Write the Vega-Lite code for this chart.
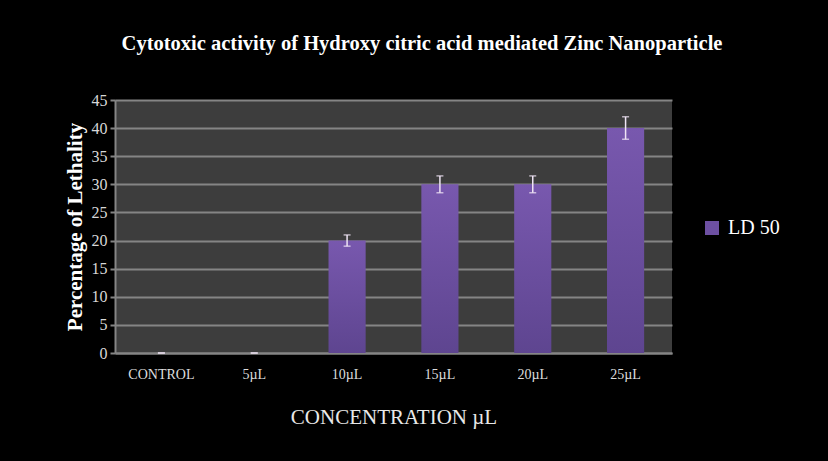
{
  "$schema": "https://vega.github.io/schema/vega-lite/v6.json",
  "autosize": "none",
  "width": 557,
  "height": 253,
  "padding": {"left": 115, "top": 100, "right": 156, "bottom": 108},
  "background": "#000000",
  "title": {
    "text": "Cytotoxic activity of Hydroxy citric acid mediated Zinc Nanoparticle",
    "font": "Liberation Serif",
    "fontSize": 20.5,
    "fontWeight": "bold",
    "color": "#ffffff",
    "anchor": "middle",
    "frame": "bounds",
    "offset": 38
  },
  "config": {
    "view": {"fill": "#3d3d3d", "stroke": null},
    "font": "Liberation Serif",
    "axisY": {
      "titleFont": "Liberation Serif",
      "titleFontSize": 21,
      "titleFontWeight": "bold",
      "titleColor": "#ffffff",
      "titlePadding": 6,
      "labelFont": "Liberation Serif",
      "labelFontSize": 16,
      "labelColor": "#d8d8d8",
      "labelPadding": 3,
      "labelOverlap": false,
      "tickCount": 10,
      "tickColor": "#858585",
      "tickSize": 5,
      "tickWidth": 2,
      "grid": true,
      "gridColor": "#858585",
      "gridWidth": 2,
      "domainColor": "#858585",
      "domainWidth": 2
    }
  },
  "data": {
    "values": [
      {"conc": "CONTROL", "value": 0, "lo": 0, "hi": 0, "series": "LD 50"},
      {"conc": "5µL", "value": 0, "lo": 0, "hi": 0, "series": "LD 50"},
      {"conc": "10µL", "value": 20, "lo": 19, "hi": 21, "series": "LD 50"},
      {"conc": "15µL", "value": 30, "lo": 28.5, "hi": 31.5, "series": "LD 50"},
      {"conc": "20µL", "value": 30, "lo": 28.5, "hi": 31.5, "series": "LD 50"},
      {"conc": "25µL", "value": 40, "lo": 38, "hi": 42, "series": "LD 50"}
    ]
  },
  "encoding": {
    "x": {
      "field": "conc",
      "type": "nominal",
      "sort": null,
      "scale": {"paddingInner": 0.6, "paddingOuter": 0.3},
      "axis": {
        "title": "CONCENTRATION µL",
        "titleFont": "Liberation Serif",
        "titleFontSize": 21,
        "titleFontWeight": "normal",
        "titleColor": "#e8e8e8",
        "titlePadding": 25,
        "labelFont": "Liberation Serif",
        "labelFontSize": 14,
        "labelColor": "#dddddd",
        "labelAngle": 0,
        "labelPadding": 14,
        "ticks": false,
        "domainColor": "#858585",
        "domainWidth": 2
      }
    }
  },
  "layer": [
    {
      "mark": {
        "type": "bar",
        "color": {
          "gradient": "linear",
          "x1": 0, "y1": 0, "x2": 0, "y2": 1,
          "stops": [
            {"offset": 0, "color": "#7858ae"},
            {"offset": 1, "color": "#5e4590"}
          ]
        }
      },
      "encoding": {
        "y": {
          "field": "value",
          "type": "quantitative",
          "scale": {"domain": [0, 45]},
          "axis": {"title": "Percentage of Lethality"}
        }
      }
    },
    {
      "mark": {"type": "square", "size": 0, "opacity": 1},
      "encoding": {
        "y": {"field": "value", "type": "quantitative"},
        "color": {
          "field": "series",
          "type": "nominal",
          "scale": {"range": ["#6d50a2"]},
          "legend": {
            "title": null,
            "orient": "none",
            "legendX": 587,
            "legendY": 118,
            "symbolType": "square",
            "symbolSize": 196,
            "symbolStrokeWidth": 0,
            "symbolOpacity": 1,
            "labelFont": "Liberation Serif",
            "labelFontSize": 20,
            "labelColor": "#ffffff",
            "labelOffset": 6
          }
        }
      }
    },
    {
      "mark": {"type": "rule", "color": "#efe4f5", "strokeWidth": 1.5},
      "encoding": {
        "y": {"field": "lo", "type": "quantitative"},
        "y2": {"field": "hi"}
      }
    },
    {
      "mark": {"type": "tick", "color": "#efe4f5", "thickness": 1.5, "size": 7},
      "encoding": {
        "y": {"field": "lo", "type": "quantitative"}
      }
    },
    {
      "mark": {"type": "tick", "color": "#efe4f5", "thickness": 1.5, "size": 7},
      "encoding": {
        "y": {"field": "hi", "type": "quantitative"}
      }
    }
  ]
}
